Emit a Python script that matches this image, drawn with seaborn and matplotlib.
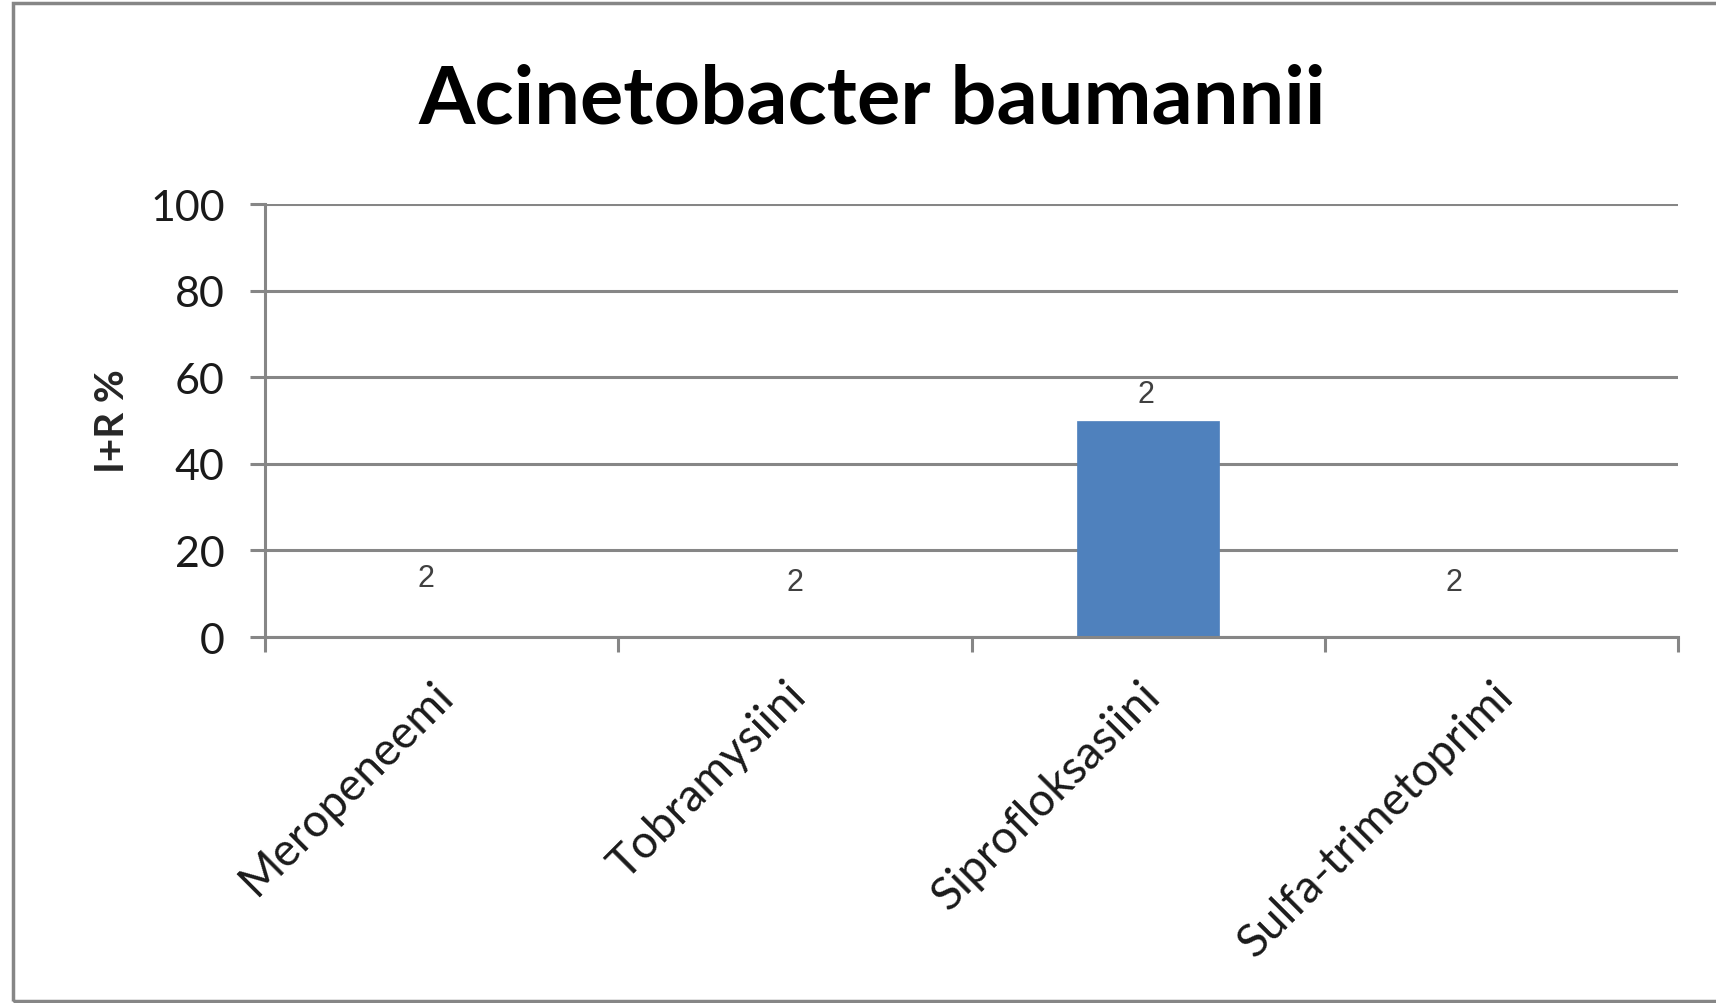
import matplotlib
matplotlib.use("Agg")
import matplotlib.pyplot as plt
import matplotlib.transforms as mtransforms
import seaborn as sns
from matplotlib.patches import Rectangle

# --- DATA ---
antibiotics = ["Meropeneemi", "Tobramysiini", "Siprofloksasiini", "Sulfa-trimetoprimi"]
ir_percent = [0, 0, 50, 0]
n_isolates = [2, 2, 2, 2]
y_ticks = [0, 20, 40, 60, 80, 100]

# label offsets (pixels) as placed in the original chart
label_offsets = [(-16, 59), (0, 55), (-2, 27), (-47, 55)]

GRID = "#868686"
BAR = "#4F81BD"


def main():
    sns.set_style("white")
    plt.rcParams["font.family"] = ["Lato", "DejaVu Sans"]

    fig = plt.figure(figsize=(17.16, 10.04), dpi=100)
    ax = fig.add_axes([0.1544, 0.3645, 0.8235, 0.4313])

    sns.barplot(x=antibiotics, y=ir_percent, color=BAR, width=0.4,
                saturation=1, edgecolor=BAR, linewidth=0.5, ax=ax, zorder=3)

    ax.set_xlim(-0.5, len(antibiotics) - 0.5)
    ax.set_ylim(0, 100)
    ax.set_yticks(y_ticks)
    ax.set_yticklabels([str(t) for t in y_ticks], fontsize=31, color="#1a1a1a")
    ax.tick_params(axis="y", left=True, length=11, width=2.2, color=GRID, pad=18)

    # category boundary ticks on x
    ax.set_xticks(range(len(antibiotics)))
    ax.set_xticks([i - 0.5 for i in range(len(antibiotics) + 1)], minor=True)
    ax.tick_params(axis="x", which="minor", bottom=True, length=11, width=2.2,
                   color=GRID, direction="out")
    ax.tick_params(axis="x", which="major", bottom=True, length=0, pad=26)
    ax.set_xticklabels(antibiotics, rotation=45, ha="right",
                       rotation_mode="anchor", fontsize=33, color="#1a1a1a")
    shift = mtransforms.ScaledTranslation(-10 / 100, 0, fig.dpi_scale_trans)
    for lbl in ax.get_xticklabels():
        lbl.set_transform(lbl.get_transform() + shift)

    ax.yaxis.grid(True, color=GRID, linewidth=2.2)
    ax.set_axisbelow(True)
    for side in ["top", "right"]:
        ax.spines[side].set_visible(False)
    for side in ["left", "bottom"]:
        ax.spines[side].set_color(GRID)
        ax.spines[side].set_linewidth(2.2)
        ax.spines[side].set_zorder(4)

    ax.set_xlabel("")
    ax.set_ylabel("I+R %", fontsize=29, fontweight="bold", labelpad=14)

    for i, (v, n) in enumerate(zip(ir_percent, n_isolates)):
        dx, dy = label_offsets[i]
        ax.annotate(str(n), xy=(i, v), xytext=(dx, dy), textcoords="offset pixels",
                    ha="center", va="center", fontsize=22, color="#404040",
                    family=["Liberation Sans", "DejaVu Sans"])

    fig.text(0.508, 0.9, "Acinetobacter baumannii", ha="center", va="center",
             fontsize=58.5, fontweight="bold", color="black")

    # chart border (open on the right like the source image)
    fig.patches.append(Rectangle((13 / 1716, 2 / 1004), 1.2, 998 / 1004,
                                 transform=fig.transFigure, fill=False,
                                 edgecolor=GRID, linewidth=2.5))

    fig.savefig("out.png", dpi=100)


if __name__ == "__main__":
    main()
